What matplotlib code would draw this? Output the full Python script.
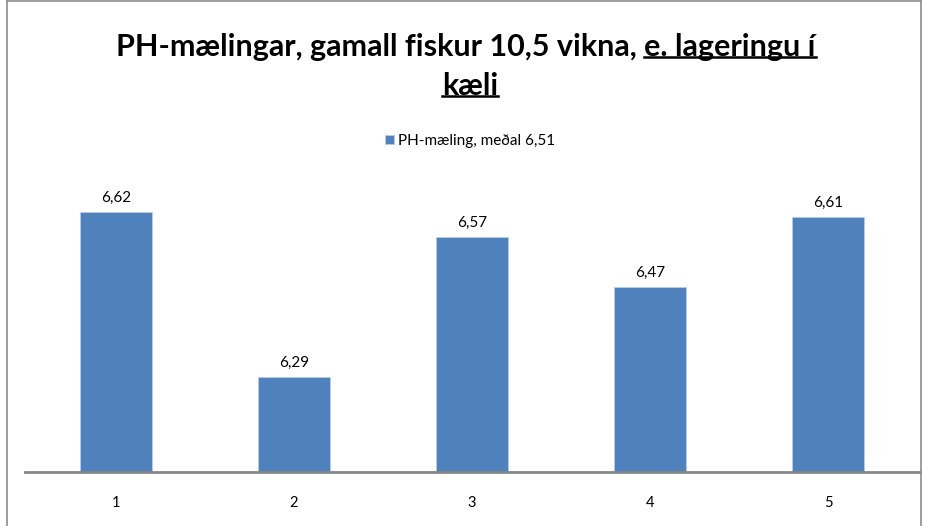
import matplotlib
matplotlib.use("Agg")
import matplotlib.pyplot as plt
from matplotlib.lines import Line2D

categories = ["1", "2", "3", "4", "5"]
values = [6.62, 6.29, 6.57, 6.47, 6.61]
value_labels = ["6,62", "6,29", "6,57", "6,47", "6,61"]
series_name = "PH-mæling, meðal 6,51"
title_plain = "PH-mælingar, gamall fiskur 10,5 vikna, "
title_under1 = "e. lageringu í"
title_under2 = "kæli"

W, H = 927, 526
fig = plt.figure(figsize=(W / 100, H / 100), dpi=100)
fig.patch.set_facecolor("white")
FONT = ["Lato", "DejaVu Sans"]
BLUE = "#4F81BD"

ax = fig.add_axes([27 / W, 1 - 472 / H, 890 / W, 300 / H])
x = list(range(1, len(categories) + 1))
bars = ax.bar(x, [v - 6.1 for v in values], bottom=6.1, width=0.4, color=BLUE,
              edgecolor="#B9CDE5", linewidth=0.6, label=series_name, zorder=2)
ax.set_xlim(0.5, 5.5)
ax.set_ylim(6.1, 6.7)
for s in ["top", "right", "left", "bottom"]:
    ax.spines[s].set_visible(False)
ax.set_yticks([])
ax.set_xticks(x)
ax.set_xticklabels(categories, fontsize=10.5, family=FONT, color="#000000")
ax.tick_params(axis="x", length=0, pad=17)
for xi, v, lab in zip(x, values, value_labels):
    ax.annotate(lab, (xi, v), xytext=(0, 5), textcoords="offset points",
                ha="center", va="bottom", fontsize=11, family=FONT)

# axis baseline
fig.add_artist(Line2D([25 / W, 920 / W], [1 - 472 / H] * 2, color="#868686", lw=2))
# outer border
for xs, ys in [([7 / W, 7 / W], [0, 1 - 1 / H]), ([921 / W, 921 / W], [0, 1 - 1 / H]),
               ([7 / W, 921 / W], [1 - 1 / H, 1 - 1 / H])]:
    fig.add_artist(Line2D(xs, ys, color="#8C8C8C", lw=1.2))

# legend
leg = fig.legend(handles=[bars], labels=[series_name], loc="center",
                 bbox_to_anchor=(470 / W, 1 - 141 / H), frameon=False,
                 prop={"family": FONT, "size": 11}, handlelength=0.6, handleheight=0.6,
                 handletextpad=0.3)

# title with underlined part
fs = 22
y1 = 1 - 47 / H
y2 = 1 - 86 / H
t_a = fig.text(0, y1, title_plain, fontsize=fs, fontweight="bold", family=FONT, va="center")
t_b = fig.text(0, y1, title_under1, fontsize=fs, fontweight="bold", family=FONT, va="center")
t_c = fig.text(470 / W, y2, title_under2, fontsize=fs, fontweight="bold", family=FONT,
               va="center", ha="center")
fig.canvas.draw()
r = fig.canvas.get_renderer()
wa = t_a.get_window_extent(r).width
wb = t_b.get_window_extent(r).width
x0 = (466 - (wa + wb) / 2)
t_a.set_x(x0 / W)
t_b.set_x((x0 + wa) / W)
fig.canvas.draw()
for t in (t_b, t_c):
    bb = t.get_window_extent(r)
    yb = bb.y0 + 0.14 * bb.height
    fig.add_artist(Line2D([bb.x0 / W, bb.x1 / W], [yb / H, yb / H], color="black", lw=1.8))

fig.savefig("out.png", dpi=100)
